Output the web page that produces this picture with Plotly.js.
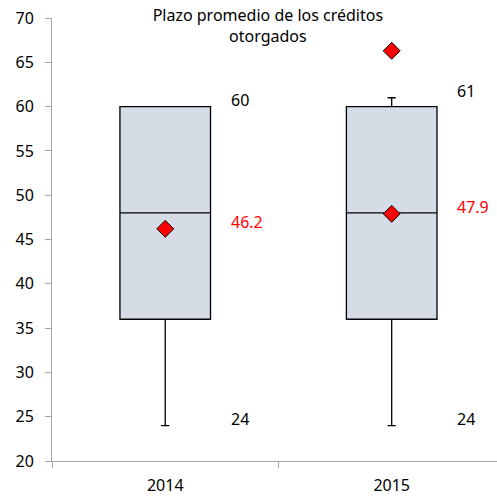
<!DOCTYPE html>
<html>
<head>
<meta charset="utf-8">
<script src="https://cdn.plot.ly/plotly-3.0.1.min.js"></script>
<style>html,body{margin:0;padding:0;background:#fff;}</style>
</head>
<body>
<div id="chart" style="width:497px;height:499px;"></div>
<script>
const categories = ["2014", "2015"];
const q1 = [36, 36];
const median = [48, 48];
const q3 = [60, 60];
const lowerWhisker = [24, 24];
const upperWhisker = [60, 61];
const means = [46.2, 47.9];
const outlierCategories = ["2015"];
const outlierValues = [66.3];
const titleText = "Plazo promedio de los créditos<br>otorgados";

const FONT = "Noto Sans, Open Sans, sans-serif";

const boxTrace = {
  type: "box",
  x: categories,
  q1: q1,
  median: median,
  q3: q3,
  lowerfence: lowerWhisker,
  upperfence: upperWhisker,
  width: 0.4,
  whiskerwidth: 0.09,
  fillcolor: "#D6DCE5",
  line: {color: "#000000", width: 1.3},
  boxpoints: false,
  hoverinfo: "skip",
  showlegend: false
};

const meanTrace = {
  type: "scatter",
  mode: "markers",
  x: categories,
  y: means,
  marker: {symbol: "diamond", size: 13, color: "#FF0000", line: {color: "#000000", width: 1}},
  showlegend: false,
  hoverinfo: "skip"
};

const outlierTrace = {
  type: "scatter",
  mode: "markers",
  x: outlierCategories,
  y: outlierValues,
  marker: {symbol: "diamond", size: 13, color: "#FF0000", line: {color: "#000000", width: 1}},
  showlegend: false,
  hoverinfo: "skip"
};

const annotations = [];
categories.forEach((c, i) => {
  const items = [
    {v: upperWhisker[i], color: "#000000"},
    {v: means[i], color: "#FF0000"},
    {v: lowerWhisker[i], color: "#000000"}
  ];
  items.forEach(it => {
    annotations.push({
      x: i + 0.28, xref: "x", y: it.v, yref: "y",
      text: String(it.v), showarrow: false, xanchor: "left", yanchor: "middle",
      yshift: 7,
      font: {family: FONT, size: 16, color: it.color}
    });
  });
});

const layout = {
  width: 497, height: 499,
  margin: {l: 52, r: 0, t: 18, b: 38},
  paper_bgcolor: "#ffffff",
  plot_bgcolor: "#ffffff",
  font: {family: FONT, size: 16, color: "#000000"},
  title: {
    text: titleText,
    font: {family: FONT, size: 16, color: "#000000"},
    x: 0.539, xref: "container", xanchor: "center",
    y: 0.957, yref: "container", yanchor: "top"
  },
  xaxis: {
    type: "category",
    range: [-0.5, 1.465],
    tickson: "boundaries",
    ticks: "outside", ticklen: 6, tickcolor: "#A6A6A6", tickwidth: 1,
    ticklabelstandoff: 10,
    showline: true, linecolor: "#A6A6A6", linewidth: 1,
    showgrid: false, zeroline: false,
    tickfont: {family: FONT, size: 16, color: "#000000"}
  },
  yaxis: {
    range: [20, 70],
    dtick: 5, tick0: 20,
    ticks: "outside", ticklen: 6, tickcolor: "#A6A6A6", tickwidth: 1,
    ticklabelstandoff: 8,
    showline: true, linecolor: "#A6A6A6", linewidth: 1,
    showgrid: false, zeroline: false,
    tickfont: {family: FONT, size: 16, color: "#000000"}
  },
  annotations: annotations,
  showlegend: false
};

Plotly.newPlot("chart", [boxTrace, meanTrace, outlierTrace], layout, {displayModeBar: false, staticPlot: true});
</script>
</body>
</html>
